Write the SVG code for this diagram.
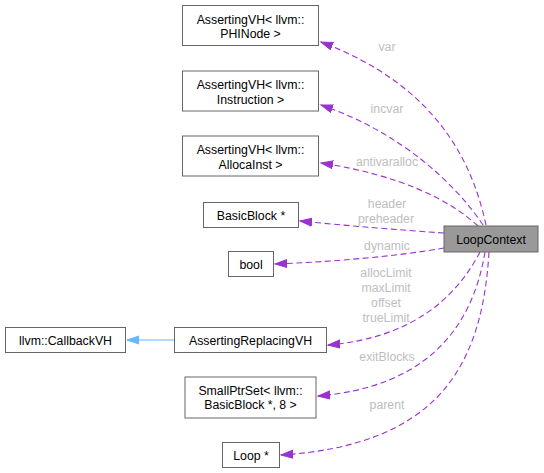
<svg xmlns="http://www.w3.org/2000/svg" width="544" height="473" viewBox="0 0 544 473">
<style>
.n rect{fill:#ffffff;stroke:#666666;stroke-width:1}
.n text{font-family:"Liberation Sans",Arial,sans-serif;font-size:12.3px;fill:#000000;text-anchor:middle}
.e path{fill:none;stroke:#9a32cd;stroke-width:1.1;stroke-dasharray:6,3.5}
.l{font-family:"Liberation Sans",Arial,sans-serif;font-size:12.3px;fill:#bebebe;text-anchor:middle}
</style>
<defs>
<marker id="pa" markerWidth="14" markerHeight="10" refX="12" refY="4.5" orient="auto" markerUnits="userSpaceOnUse">
<path d="M0,0.5 L12,4.5 L0,8.5 Z" fill="#9a32cd" stroke="#9a32cd"/>
</marker>
<marker id="ba" markerWidth="14" markerHeight="10" refX="12" refY="4.5" orient="auto" markerUnits="userSpaceOnUse">
<path d="M0,0.5 L12,4.5 L0,8.5 Z" fill="#63b8ff" stroke="#63b8ff"/>
</marker>
</defs>
<rect width="544" height="473" fill="#ffffff"/>
<g id="connectors">
<g class="e">
<path d="M486,225 C472,160 435,85 321,42" marker-end="url(#pa)"/>
<path d="M483,225 C455,183 400,132 321,105" marker-end="url(#pa)"/>
<path d="M478,226 C450,200 400,175 321,163" marker-end="url(#pa)"/>
<path d="M444,233 C400,230 350,226 300,221" marker-end="url(#pa)"/>
<path d="M444,248 C400,256 330,262 275,264" marker-end="url(#pa)"/>
<path d="M480,252 C455,300 410,338 328,345" marker-end="url(#pa)"/>
<path d="M485,252 C472,330 425,387 318,396" marker-end="url(#pa)"/>
<path d="M489,252 C482,370 435,445 281,455" marker-end="url(#pa)"/>
</g>
<path d="M174,340 L127,340" fill="none" stroke="#63b8ff" stroke-width="1.1" marker-end="url(#ba)"/>
<text class="l" x="387" y="51">var</text>
<text class="l" x="387" y="113">incvar</text>
<text class="l" x="387" y="166">antivaralloc</text>
<text class="l" x="387" y="208">header</text>
<text class="l" x="386" y="223">preheader</text>
<text class="l" x="387" y="250">dynamic</text>
<text class="l" x="386" y="277">allocLimit</text>
<text class="l" x="386" y="292">maxLimit</text>
<text class="l" x="386" y="307">offset</text>
<text class="l" x="386" y="322">trueLimit</text>
<text class="l" x="387" y="361">exitBlocks</text>
<text class="l" x="387" y="409">parent</text>
</g>
<g id="LoopContext" class="n">
<rect x="444" y="226" width="94" height="26" style="fill:#999999"/>
<text x="491" y="244">LoopContext</text>
</g>
<g id="PHINode" class="n">
<rect x="182.5" y="5.5" width="136" height="40"/>
<text x="250.5" y="23.5">AssertingVH&lt; llvm::</text>
<text x="250.5" y="38">PHINode &gt;</text>
</g>
<g id="Instruction" class="n">
<rect x="182.5" y="71" width="136" height="40"/>
<text x="250.5" y="89">AssertingVH&lt; llvm::</text>
<text x="250.5" y="103.5">Instruction &gt;</text>
</g>
<g id="AllocaInst" class="n">
<rect x="182.5" y="136" width="136" height="40"/>
<text x="250.5" y="154">AssertingVH&lt; llvm::</text>
<text x="250.5" y="168.5">AllocaInst &gt;</text>
</g>
<g id="BasicBlock" class="n">
<rect x="203.5" y="202.5" width="95" height="25"/>
<text x="251" y="219.5">BasicBlock *</text>
</g>
<g id="bool" class="n">
<rect x="228.5" y="251.5" width="45" height="25"/>
<text x="251" y="268.5">bool</text>
</g>
<g id="CallbackVH" class="n">
<rect x="5.5" y="327.5" width="120" height="25"/>
<text x="65.5" y="344.5">llvm::CallbackVH</text>
</g>
<g id="AssertingReplacingVH" class="n">
<rect x="174.5" y="327.5" width="152" height="25"/>
<text x="250.5" y="344.5">AssertingReplacingVH</text>
</g>
<g id="SmallPtrSet" class="n">
<rect x="185" y="377" width="131" height="41"/>
<text x="250.5" y="394.5">SmallPtrSet&lt; llvm::</text>
<text x="250.5" y="409">BasicBlock *, 8 &gt;</text>
</g>
<g id="Loop" class="n">
<rect x="222.5" y="442.5" width="57" height="25"/>
<text x="251" y="459.5">Loop *</text>
</g>
</svg>
